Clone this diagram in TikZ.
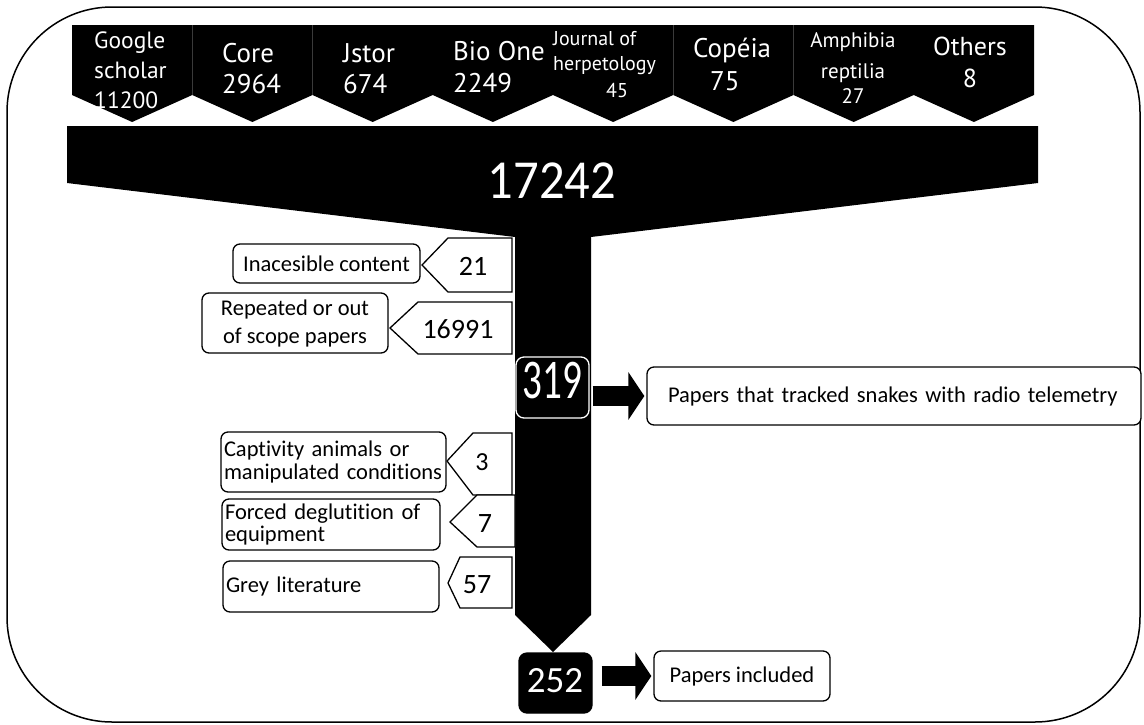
\documentclass[tikz,border=0pt]{standalone}
\usepackage{fontspec}
\setmainfont{Carlito}[Ligatures=NoCommon]
\newfontfamily\chevfont{PT Sans}
\usetikzlibrary{arrows.meta}
\begin{document}
\begin{tikzpicture}[x=1pt,y=-1pt,
  frame/.style={draw, line width=1.5pt, rounded corners=105pt},
  chevblock/.style={fill=black},
  lbox/.style={draw, fill=white, line width=1.3pt, rounded corners=7pt, inner sep=3pt, font=\fontsize{22.5}{24}\selectfont},
  tagshape/.style={draw, fill=white, line width=1.3pt},
  num/.style={anchor=base, inner sep=0pt, font=\fontsize{28}{30}\selectfont},
  chev/.style={text=white, inner sep=0pt, anchor=base west},
  chevc/.style={text=white, inner sep=0pt, anchor=base},
  darkbox/.style={fill=black, draw=white, line width=1.3pt, rounded corners=8pt, inner sep=0pt},
  bigarrow/.style={line width=20pt, -{Triangle[length=16pt,width=47pt]}}
]
\useasboundingbox (0,0) rectangle (1144,724);
% outer frame
\draw[frame] (7,7) rectangle (1140,722);
% chevron strip
\foreach \i in {0,...,7}{
  \pgfmathsetmacro{\L}{72+120.25*\i}
  \pgfmathsetmacro{\R}{\L+120.25}
  \pgfmathsetmacro{\C}{\L+60.125}
  \fill[chevblock] (\L,25) -- (\R,25) -- (\R,95) -- (\C,122) -- (\L,95) -- cycle;
}
% funnel and column
\fill (67,126) -- (1038,126) -- (1038,183) -- (591,237) -- (591,615) -- (553,652) -- (515,615) -- (515,237) -- (67,183) -- cycle;

% chevron labels
\begin{scope}[every node/.append style={font=\chevfont\fontsize{23.5}{26}\selectfont}]
\node[chev] (g1) at (94,48) {Google};
\node[chev] (g2) at (94,78) {scholar};
\node[chev] (g3) at (94,108) {11200};
\end{scope}
\begin{scope}[every node/.append style={font=\chevfont\fontsize{27}{30}\selectfont}]
\node[chev] (c1) at (222,62) {Core};
\node[chev] (c2) at (222,93) {2964};
\node[chev] (j1) at (343,62) {Jstor};
\node[chev] (j2) at (343,93) {674};
\node[chev] (bo1) at (453,60) {Bio One};
\node[chev] (bo2) at (453,92) {2249};
\node[chev] (cp1) at (693,57) {Copéia};
\node[chev] (cp2) at (710,90) {75};
\end{scope}
\begin{scope}[every node/.append style={font=\chevfont\fontsize{20}{22}\selectfont}]
\node[chev] (jh1) at (553,45) {Journal of};
\node[chev] (jh2) at (553,70) {herpetology};
\node[chevc] (jh3) at (617,97) {45};
\end{scope}
\begin{scope}[every node/.append style={font=\chevfont\fontsize{21}{23}\selectfont}]
\node[chevc] (ar1) at (853,47) {Amphibia};
\node[chevc] (ar2) at (853,78) {reptilia};
\node[chevc] (ar3) at (853,103) {27};
\end{scope}
\begin{scope}[every node/.append style={font=\chevfont\fontsize{26}{28}\selectfont}]
\node[chevc] (ot1) at (970,55) {Others};
\node[chevc] (ot2) at (970,87) {8};
\end{scope}

% total
\node[chevc, font=\fontsize{55}{60}\selectfont] (total) at (552,198) {\scalebox{0.92}[1]{17242}};

% exclusion tags
\draw[tagshape] (422,265) -- (448,238) -- (512,238) -- (512,292) -- (448,292) -- cycle;
\draw[tagshape] (390,328) -- (418,302) -- (512,302) -- (512,354) -- (418,354) -- cycle;
\draw[tagshape] (447,461) -- (473,433) -- (512,433) -- (512,495) -- (473,495) -- cycle;
\draw[tagshape] (450,522) -- (477,495) -- (515,495) -- (515,547) -- (477,547) -- cycle;
\draw[tagshape] (448,583) -- (460,557) -- (512,557) -- (512,608) -- (460,608) -- cycle;
\node[num] (n21) at (473,275) {21};
\node[num] (n16991) at (458,338) {16991};
\node[num, font=\fontsize{26}{28}\selectfont] (n3) at (482,470) {3};
\node[num] (n7) at (485,532) {7};
\node[num] (n57) at (477,593) {57};

% exclusion reasons
\node[lbox, minimum width=187pt, minimum height=39pt] (b1) at (326.5,263.5) {Inacesible content};
\node[lbox, minimum width=186pt, minimum height=60pt, align=center, font=\fontsize{22.5}{28}\selectfont] (b2) at (295,323) {Repeated or out\\of scope papers};
\node[lbox, text width=219pt, minimum height=60pt, align=left, font=\fontsize{22.5}{23}\selectfont] (b3) at (333.5,462) {Captivity animals or\\manipulated conditions};
\node[lbox, text width=212pt, minimum height=51pt, align=left, font=\fontsize{22.5}{22}\selectfont] (b4) at (331,524.5) {Forced deglutition of\\equipment};
\node[lbox, text width=210pt, minimum height=51pt, align=left] (b5) at (331,586.5) {Grey literature};

% stage boxes
\node[darkbox, minimum width=73pt, minimum height=61pt] (n319) at (552.5,387.5) {};
\node[text=white, anchor=base, inner sep=0pt, font=\fontsize{56}{60}\selectfont] (t319) at (552.5,398) {\scalebox{0.7}[1]{319}};
\node[darkbox, draw=black, minimum width=73pt, minimum height=60pt] (n252) at (555.5,683) {};
\node[text=white, anchor=base, inner sep=0pt, font=\fontsize{37}{40}\selectfont] (t252) at (555,692) {252};

% result boxes
\node[lbox, text width=452pt, inner sep=21pt, inner ysep=3pt, minimum height=58pt, align=left] (track) at (894,396) {Papers that tracked snakes with radio telemetry};
\node[lbox, minimum width=176pt, minimum height=50pt] (inc) at (742,676) {Papers included};

% block arrows
\draw[bigarrow, shorten <=3pt, shorten >=2pt] (n319.east |- track.west) -- (track.west);
\draw[bigarrow, shorten <=9pt, shorten >=2pt] (n252.east |- inc.west) -- (inc.west);
\end{tikzpicture}
\end{document}
